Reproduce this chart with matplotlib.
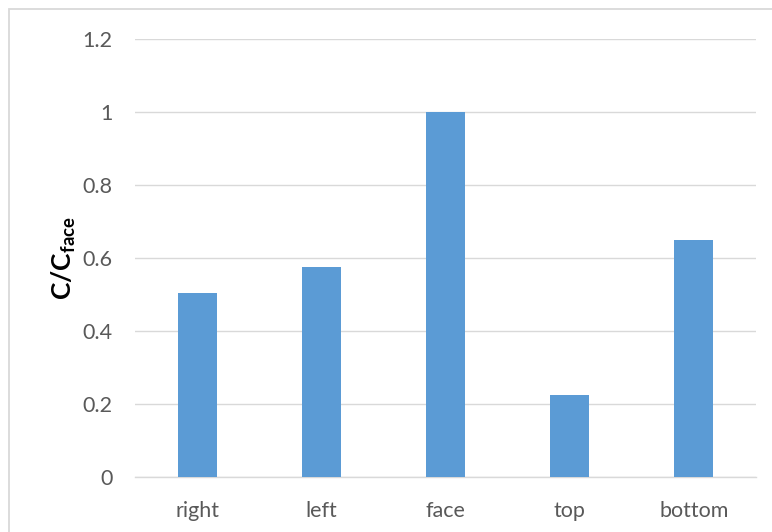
import matplotlib
matplotlib.use("Agg")
import matplotlib.pyplot as plt
from matplotlib.patches import Rectangle

CATEGORIES = ["right", "left", "face", "top", "bottom"]
VALUES = [0.504, 0.575, 1.0, 0.224, 0.649]
Y_TICKS = [0, 0.2, 0.4, 0.6, 0.8, 1.0, 1.2]
Y_TICK_LABELS = ["0", "0.2", "0.4", "0.6", "0.8", "1", "1.2"]

BAR = "#5B9BD5"
GRID = "#D9D9D9"
TICK = "#595959"

plt.rcParams.update({
    "font.family": ["Lato", "DejaVu Sans"],
    "mathtext.fontset": "custom",
    "mathtext.rm": "Lato",
    "mathtext.bf": "Lato:bold",
    "mathtext.it": "Lato:italic",
})

fig = plt.figure(figsize=(7.72, 5.32), dpi=100)
# chart-area border (only left and top edges visible in the crop)
fig.patches.append(Rectangle((9 / 772, -0.1), 1.2, 1 - 9 / 532 + 0.1,
                             transform=fig.transFigure, fill=False,
                             edgecolor="#D9D9D9", linewidth=1.3))

ax = fig.add_axes([135 / 772, 1 - 477 / 532, (756 - 135) / 772, (477 - 39) / 532])
x = range(len(CATEGORIES))
ax.bar(x, VALUES, width=0.315, color=BAR, zorder=3)

ax.set_xlim(-0.5, len(CATEGORIES) - 0.5)
ax.set_ylim(0, 1.2)
ax.set_yticks(Y_TICKS)
ax.set_yticklabels(Y_TICK_LABELS)
ax.set_xticks(list(x))
ax.set_xticklabels(CATEGORIES)
ax.tick_params(axis="both", length=0, labelsize=15.5, colors=TICK)
ax.tick_params(axis="y", pad=16)
ax.tick_params(axis="x", pad=17)

ax.yaxis.grid(True, color=GRID, linewidth=1.0, zorder=0)
ax.set_axisbelow(True)
for s in ["top", "right", "left"]:
    ax.spines[s].set_visible(False)
ax.spines["bottom"].set_color(GRID)
ax.spines["bottom"].set_linewidth(1.0)

ax.set_ylabel(r"$\mathbf{C/C_{face}}$", fontsize=19, color="black", labelpad=3)

fig.savefig("out.png", dpi=100, facecolor="white")
